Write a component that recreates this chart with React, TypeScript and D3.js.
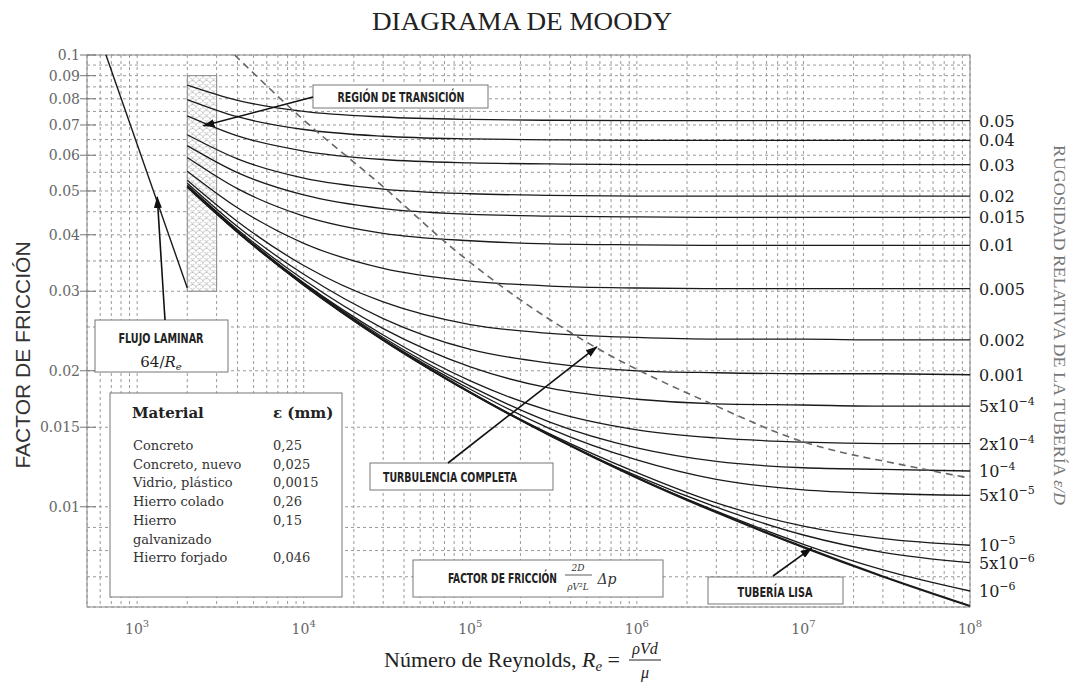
import React from 'react';
import * as d3 from 'd3';

const W = 1069;
const H = 685;
const margin = { top: 55, right: 99, bottom: 78, left: 87 };

// Reynolds numbers at which the curves were read
const reynolds = [2000, 4000, 1e4, 3e4, 1e5, 3e5, 1e6, 3e6, 1e7, 3e7, 1e8];

// friction factor read for each relative roughness
const f_0_05 = [0.0858, 0.0794, 0.075, 0.0729, 0.072, 0.0717, 0.0716, 0.0716, 0.0716, 0.0716, 0.0716];
const f_0_04 = [0.0797, 0.073, 0.0684, 0.0661, 0.0652, 0.0649, 0.0647, 0.0647, 0.0647, 0.0647, 0.0647];
const f_0_03 = [0.0733, 0.0662, 0.0613, 0.0587, 0.0577, 0.0574, 0.0572, 0.0572, 0.0572, 0.0572, 0.0572];
const f_0_02 = [0.0666, 0.0589, 0.0534, 0.0505, 0.0493, 0.0489, 0.0487, 0.0487, 0.0487, 0.0487, 0.0487];
const f_0_015 = [0.063, 0.0549, 0.049, 0.0457, 0.0444, 0.044, 0.0438, 0.0437, 0.0437, 0.0437, 0.0437];
const f_0_01 = [0.0593, 0.0506, 0.044, 0.0403, 0.0388, 0.0382, 0.038, 0.0379, 0.0379, 0.0379, 0.0379];
const f_0_005 = [0.0553, 0.0459, 0.0383, 0.0337, 0.0316, 0.0308, 0.0305, 0.0304, 0.0304, 0.0304, 0.0304];
const f_0_002 = [0.0528, 0.0428, 0.0342, 0.0284, 0.0253, 0.0242, 0.0237, 0.0235, 0.0235, 0.0234, 0.0234];
const f_0_001 = [0.052, 0.0417, 0.0327, 0.0261, 0.0223, 0.0208, 0.02, 0.0198, 0.0197, 0.0197, 0.0196];
const f_5e4 = [0.0515, 0.0411, 0.0318, 0.0248, 0.0204, 0.0183, 0.0173, 0.0169, 0.0168, 0.0167, 0.0167];
const f_2e4 = [0.0513, 0.0408, 0.0313, 0.024, 0.019, 0.0163, 0.0148, 0.0142, 0.0139, 0.0138, 0.0138];
const f_1e4 = [0.0512, 0.0407, 0.0312, 0.0237, 0.0185, 0.0154, 0.0135, 0.0126, 0.0122, 0.0121, 0.012];
const f_5e5 = [0.0511, 0.0406, 0.0311, 0.0235, 0.0182, 0.0149, 0.0127, 0.0115, 0.0109, 0.0107, 0.0106];
const f_1e5 = [0.0511, 0.0406, 0.031, 0.0234, 0.0179, 0.0145, 0.0119, 0.0102, 0.00906, 0.0085, 0.00822];
const f_5e6 = [0.0511, 0.0406, 0.031, 0.0234, 0.0179, 0.0144, 0.0117, 0.00998, 0.00866, 0.00793, 0.00752];
const f_1e6 = [0.0511, 0.0406, 0.031, 0.0234, 0.0179, 0.0144, 0.0116, 0.00978, 0.00826, 0.00725, 0.00651];
const f_smooth = [0.0511, 0.0406, 0.031, 0.0234, 0.0179, 0.0144, 0.0116, 0.00972, 0.00814, 0.00701, 0.00603];

const roughLabels = ['0.05', '0.04', '0.03', '0.02', '0.015', '0.01', '0.005', '0.002', '0.001',
  '5x10|−4', '2x10|−4', '10|−4', '5x10|−5', '10|−5', '5x10|−6', '10|−6', ''];
const roughSeries = [f_0_05, f_0_04, f_0_03, f_0_02, f_0_015, f_0_01, f_0_005, f_0_002, f_0_001,
  f_5e4, f_2e4, f_1e4, f_5e5, f_1e5, f_5e6, f_1e6, f_smooth];

// laminar flow 64/Re
const laminarRe = [650, 2000];
const laminarF = [0.1, 0.0305];

// transition region
const transRe = [2000, 3000];
const transF = [0.03, 0.09];

// limit of complete turbulence (dashed)
const dashRe = [3850, 1e4, 3e4, 8e4, 2e5, 5.7e5, 2.9e6, 9e6, 4.8e7, 9.6e7];
const dashF = [0.1, 0.0718, 0.0511, 0.0371, 0.0287, 0.0225, 0.0168, 0.0141, 0.0122, 0.0116];

const yTickValues = [0.1, 0.09, 0.08, 0.07, 0.06, 0.05, 0.04, 0.03, 0.02, 0.015, 0.01];
const yTickLabels = ['0.1', '0.09', '0.08', '0.07', '0.06', '0.05', '0.04', '0.03', '0.02', '0.015', '0.01'];
const yExtraGrid = [0.095, 0.085, 0.075, 0.065, 0.055, 0.045, 0.035, 0.025, 0.015];
const xTickExps = [3, 4, 5, 6, 7, 8];

const materials = ['Concreto', 'Concreto, nuevo', 'Vidrio, plástico', 'Hierro colado', 'Hierro', 'galvanizado', 'Hierro forjado'];
const epsilonMm = ['0,25', '0,025', '0,0015', '0,26', '0,15', '', '0,046'];

const boxFont = "'DejaVu Sans Condensed', 'DejaVu Sans', sans-serif";

function RoughLabel({ text, x, y }: { text: string; x: number; y: number }) {
  const [base, exp] = text.split('|');
  return (
    <text x={x} y={y} fontSize={16} fill="#222">
      {base}
      {exp && <tspan dy={-7} fontSize={11}>{exp}</tspan>}
    </text>
  );
}

// condensed bold caption, squeezed horizontally to a given width
function BoxText({ x, y, width, anchor, children }: { x: number; y: number; width: number; anchor?: string; children: string }) {
  const sx = 0.7;
  return (
    <text transform={`translate(${x},${y}) scale(${sx},1)`} textAnchor={anchor || 'start'}
      fontFamily={boxFont} fontWeight="bold" fontSize={14} fill="#222"
      textLength={width / sx} lengthAdjust="spacingAndGlyphs">{children}</text>
  );
}

export default function App() {
  const x = d3.scaleLog().domain([500, 1e8]).range([margin.left, W - margin.right]);
  const y = d3.scaleLog().domain([0.006, 0.1]).range([H - margin.bottom, margin.top]);
  const x0 = margin.left, x1 = W - margin.right, y0 = margin.top, y1 = H - margin.bottom;

  const line = d3.line<[number, number]>()
    .x(d => x(d[0]))
    .y(d => y(d[1]))
    .curve(d3.curveMonotoneX);

  const arrow = (sx: number, sy: number, re: number, f: number) => (
    <line x1={sx} y1={sy} x2={x(re)} y2={y(f)} stroke="#111" strokeWidth={1.6} markerEnd="url(#ah)" />
  );

  return (
    <svg width={W} height={H} style={{ position: 'absolute', left: 0, top: 0, background: '#fff' }}
      fontFamily="'DejaVu Serif', serif">
      <defs>
        <marker id="ah" viewBox="0 0 12 8" refX={11} refY={4} markerWidth={12} markerHeight={8}
          markerUnits="userSpaceOnUse" orient="auto">
          <path d="M0,0L12,4L0,8z" fill="#111" />
        </marker>
        <pattern id="scales" width={7} height={6} patternUnits="userSpaceOnUse">
          <rect width={7} height={6} fill="#fff" />
          <path d="M0,6 A3.5,3.5 0 0 1 7,6 M-3.5,3 A3.5,3.5 0 0 1 3.5,3 M3.5,3 A3.5,3.5 0 0 1 10.5,3"
            fill="none" stroke="#b0b0b0" strokeWidth={0.6} />
        </pattern>
      </defs>

      {/* title */}
      <text x={522} y={30} textAnchor="middle" fontFamily="'Liberation Serif', serif" fontSize={26}
        textLength={300} lengthAdjust="spacingAndGlyphs" fill="#222">DIAGRAMA DE MOODY</text>

      {/* grid */}
      <g stroke="#9a9a9a" strokeWidth={1} strokeDasharray="3,3">
        {x.ticks().map((t, i) => (
          <line key={'vx' + i} x1={x(t)} x2={x(t)} y1={y0} y2={y1} />
        ))}
        {[...y.ticks(), ...yExtraGrid].map((t, i) => (
          <line key={'hy' + i} x1={x0} x2={x1} y1={y(t)} y2={y(t)} />
        ))}
      </g>
      <rect x={x0} y={y0} width={x1 - x0} height={y1 - y0} fill="none" stroke="#888" />

      {/* y ticks */}
      {yTickValues.map((t, i) => (
        <g key={'yt' + i}>
          <line x1={x0 - 7} x2={x0 + 9} y1={y(t)} y2={y(t)} stroke="#777" />
          <text x={x0 - 7} y={y(t) + 5} textAnchor="end" fontSize={14} fill="#666">{yTickLabels[i]}</text>
        </g>
      ))}

      {/* x ticks */}
      {xTickExps.map(e => (
        <text key={'xt' + e} x={x(Math.pow(10, e))} y={y1 + 27} textAnchor="middle" fontSize={14} fill="#666">
          10<tspan dy={-7} fontSize={10}>{e}</tspan>
        </text>
      ))}

      {/* transition region */}
      <rect x={x(transRe[0])} y={y(transF[1])} width={x(transRe[1]) - x(transRe[0])}
        height={y(transF[0]) - y(transF[1])} fill="url(#scales)" stroke="#888" />

      {/* roughness curves */}
      {roughSeries.map((fs, i) => (
        <path key={'c' + i} d={line(reynolds.map((r, j) => [r, fs[j]]) as [number, number][]) || ''}
          fill="none" stroke="#1a1a1a" strokeWidth={i === roughSeries.length - 1 ? 2.2 : 1.3} />
      ))}

      {/* laminar */}
      <line x1={x(laminarRe[0])} y1={y(laminarF[0])} x2={x(laminarRe[1])} y2={y(laminarF[1])}
        stroke="#1a1a1a" strokeWidth={1.4} />

      {/* complete turbulence */}
      <path d={line(dashRe.map((r, j) => [r, dashF[j]]) as [number, number][]) || ''}
        fill="none" stroke="#666" strokeWidth={1.6} strokeDasharray="7,5" />

      {/* right labels */}
      {roughSeries.map((fs, i) => roughLabels[i] ? (
        <RoughLabel key={'rl' + i} text={roughLabels[i]} x={x1 + 9} y={y(fs[fs.length - 1]) + 6} />
      ) : null)}

      {/* axis titles */}
      <text transform="translate(30,355) rotate(-90)" textAnchor="middle"
        fontFamily="'Liberation Sans', Arial, sans-serif" fontSize={21} fill="#333">FACTOR DE FRICCIÓN</text>
      <text transform="translate(1054,145) rotate(90)" fontFamily="'Liberation Serif', serif" fontSize={16}
        textLength={360} lengthAdjust="spacingAndGlyphs" fill="#777">
        RUGOSIDAD RELATIVA DE LA TUBERÍA <tspan fontStyle="italic">ε/D</tspan>
      </text>
      <g fontFamily="'Liberation Serif', serif" fill="#222">
        <text x={384} y={667} fontSize={22}>
          Número de Reynolds, <tspan fontStyle="italic">R</tspan><tspan fontStyle="italic" fontSize={15} dy={4}>e</tspan>
          <tspan dy={-4}> =</tspan>
        </text>
        <text textAnchor="middle" fontSize={16} fontStyle="italic">
          <tspan x={645} y={654}>ρVd</tspan>
          <tspan x={645} y={678}>μ</tspan>
        </text>
        <line x1={629} x2={661} y1={660} y2={660} stroke="#222" strokeWidth={1} />
      </g>

      {/* annotation: región de transición */}
      <rect x={313} y={85} width={175} height={23} fill="#fff" stroke="#777" />
      <BoxText x={401} y={102} width={127} anchor="middle">REGIÓN DE TRANSICIÓN</BoxText>
      {arrow(313, 97, 2500, 0.0697)}

      {/* annotation: flujo laminar */}
      <rect x={95} y={320} width={133} height={52} fill="#fff" stroke="#777" />
      <BoxText x={161} y={343} width={85} anchor="middle">FLUJO LAMINAR</BoxText>
      <text x={161} y={367} textAnchor="middle" fontSize={15} fill="#222">
        64/<tspan fontStyle="italic">R</tspan><tspan fontStyle="italic" fontSize={10} dy={3}>e</tspan>
      </text>
      {arrow(165, 320, 1320, 0.0485)}

      {/* legend table */}
      <rect x={110} y={393} width={232} height={204} fill="#fff" stroke="#777" />
      <text x={132} y={418} fontSize={15} fontWeight="bold" fill="#222">Material</text>
      <text x={273} y={418} fontSize={15} fontWeight="bold" fill="#222">ε (mm)</text>
      {materials.map((m, i) => (
        <g key={'m' + i} fontSize={13} fill="#333">
          <text x={133} y={450 + i * 18.7}>{m}</text>
          <text x={273} y={450 + i * 18.7}>{epsilonMm[i]}</text>
        </g>
      ))}

      {/* annotation: turbulencia completa */}
      <rect x={370} y={463} width={183} height={27} fill="#fff" stroke="#777" />
      <BoxText x={383} y={482} width={134}>TURBULENCIA COMPLETA</BoxText>
      {arrow(448, 463, 5.75e5, 0.0226)}

      {/* annotation: factor de fricción */}
      <rect x={413} y={560} width={250} height={37} fill="#fff" stroke="#777" />
      <BoxText x={448} y={583} width={109}>FACTOR DE FRICCIÓN</BoxText>
      <text textAnchor="middle" fontStyle="italic" fill="#333">
        <tspan x={578} y={571} fontSize={9}>2D</tspan>
        <tspan x={578} y={590} fontSize={9}>ρV²L</tspan>
        <tspan x={607} y={584} fontSize={14}>Δp</tspan>
      </text>
      <line x1={565} x2={592} y1={575} y2={575} stroke="#333" strokeWidth={0.8} />

      {/* annotation: tubería lisa */}
      <rect x={708} y={577} width={135} height={27} fill="#fff" stroke="#777" />
      <BoxText x={775} y={597} width={75} anchor="middle">TUBERÍA LISA</BoxText>
      {arrow(773, 576, 1.12e7, 0.0081)}
    </svg>
  );
}
